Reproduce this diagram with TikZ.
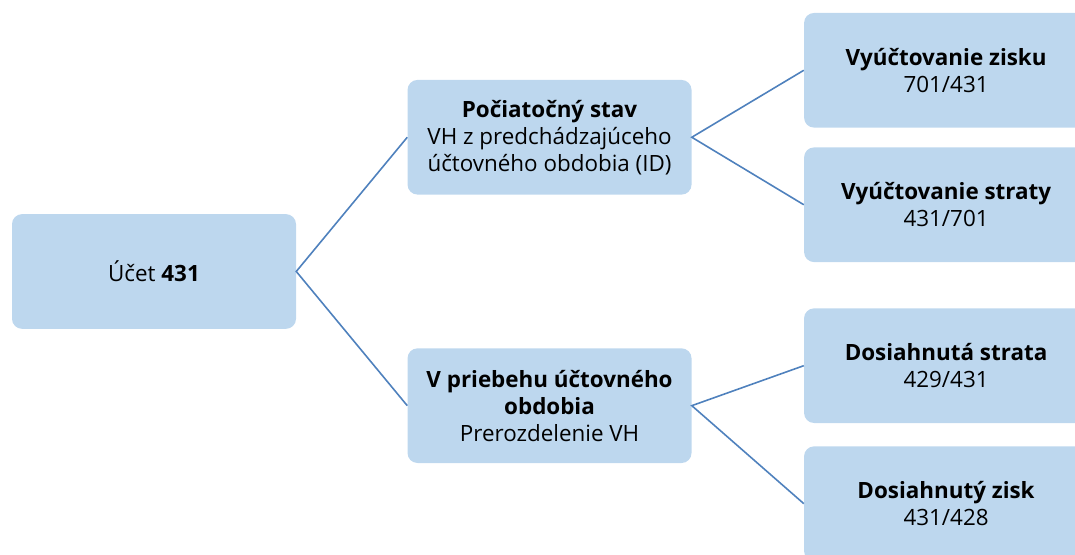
\documentclass[tikz,border=0pt]{standalone}
\usepackage{fontspec}
\setmainfont{Open Sans}
\usepackage{tikz}
\usetikzlibrary{positioning}
\definecolor{boxfill}{RGB}{189,215,238}
\definecolor{linkblue}{RGB}{79,129,189}
\tikzstyle{link} = [line width=1.2pt, draw=linkblue]
\tikzstyle{tBox} = [rectangle, rounded corners=7.5pt, fill=boxfill, align=center, minimum width=213pt, minimum height=86pt, text centered, font=\fontsize{16.8}{20.25}\selectfont]

\begin{document}
\begin{tikzpicture}
        \useasboundingbox (0,0) rectangle (806.25pt,-415.5pt);
        \node[tBox] (Root) at (115.5pt,-203.6pt) {Účet \textbf{431}};
        \node[tBox] (Start) [above right=14.25pt and 83.25pt of Root] {\textbf{Počiatočný stav}\\VH z predchádzajúceho\\účtovného obdobia (ID)};
        \node[tBox] (During) [below right=14.25pt and 83.25pt of Root] {\textbf{V priebehu účtovného}\\\textbf{obdobia}\\Prerozdelenie VH};
        \node[tBox] (Profit) [right=84pt of Start, yshift=50.25pt] {\textbf{Vyúčtovanie zisku}\\701/431};
        \node[tBox] (Loss) [right=84pt of Start, yshift=-50.6pt] {\textbf{Vyúčtovanie straty}\\431/701};
        \node[tBox] (GotLoss) [right=84pt of During, yshift=30pt] {\textbf{Dosiahnutá strata}\\429/431};
        \node[tBox] (GotProfit) [right=84pt of During, yshift=-73.5pt] {\textbf{Dosiahnutý zisk}\\431/428};
        \draw[link] (Start.west) -- (Root.east) -- (During.west);
        \draw[link] (Profit.west) -- (Start.east) -- (Loss.west);
        \draw[link] (GotLoss.west) -- (During.east) -- (GotProfit.west);
    \end{tikzpicture}
\end{document}
